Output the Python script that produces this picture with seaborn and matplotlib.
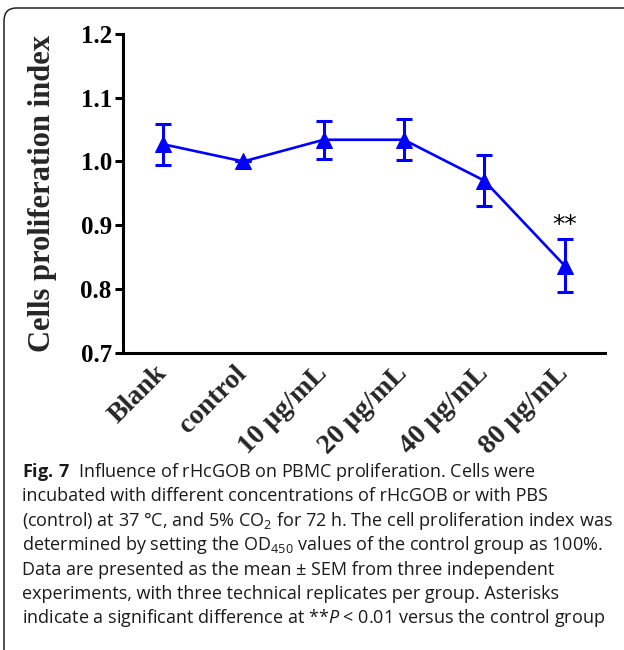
import matplotlib
matplotlib.use("Agg")
import matplotlib.pyplot as plt
from matplotlib.patches import FancyBboxPatch
import seaborn as sns
import pandas as pd

# values
groups = ["Blank", "control", "10 μg/mL", "20 μg/mL", "40 μg/mL", "80 μg/mL"]
means = [1.027, 1.000, 1.034, 1.034, 0.970, 0.837]
sems = [0.032, 0.000, 0.030, 0.032, 0.040, 0.042]
yticks = [0.7, 0.8, 0.9, 1.0, 1.1, 1.2]
ytick_labels = ["0.7", "0.8", "0.9", "1.0", "1.1", "1.2"]
signif = {"80 μg/mL": "**"}

caption_lines = [
    r"$\mathbf{Fig.\,7}$  Influence of rHcGOB on PBMC proliferation. Cells were",
    "incubated with different concentrations of rHcGOB or with PBS",
    r"(control) at 37 °C, and 5% CO$_2$ for 72 h. The cell proliferation index was",
    r"determined by setting the OD$_{450}$ values of the control group as 100%.",
    "Data are presented as the mean ± SEM from three independent",
    "experiments, with three technical replicates per group. Asterisks",
    r"indicate a significant difference at **$P$ < 0.01 versus the control group",
]

sns.set_theme(style="ticks")
plt.rcParams["font.family"] = ["Liberation Serif", "DejaVu Serif"]
plt.rcParams["mathtext.fontset"] = "custom"
plt.rcParams["mathtext.rm"] = "Open Sans"
plt.rcParams["mathtext.it"] = "Open Sans:italic"
plt.rcParams["mathtext.bf"] = "Open Sans:bold"

df = pd.DataFrame({"group": groups, "mean": means, "sem": sems})
blue = "#0000ff"

fig = plt.figure(figsize=(6.24, 6.5), dpi=100)
ax = fig.add_axes([0.197, 0.457, 0.772, 0.491])

sns.lineplot(data=df, x="group", y="mean", color=blue, linewidth=1.9,
             marker="^", markersize=11, markeredgecolor=blue, sort=False, ax=ax)
ax.errorbar(df["group"], df["mean"], yerr=df["sem"], fmt="none", ecolor=blue,
            elinewidth=2.2, capsize=6, capthick=2.2)

for g, mark in signif.items():
    i = groups.index(g)
    ax.text(i, means[i] + sems[i] + 0.003, mark, ha="center", va="bottom",
            fontsize=18, family="DejaVu Sans", color="black")

ax.set_xlim(-0.5, len(groups) - 0.5)
ax.set_ylim(0.7, 1.2)
ax.set_yticks(yticks, ytick_labels, fontsize=18, fontweight="bold")
ax.set_xticks(range(len(groups)), groups, fontsize=20, fontweight="bold",
              rotation=45, ha="right", va="center", rotation_mode="anchor")
ax.tick_params(axis="x", length=0, pad=12)
ax.tick_params(axis="y", length=6, width=2.2, pad=2, colors="black")
ax.set_xlabel("")
ax.set_ylabel("Cells proliferation index", fontsize=22, fontweight="bold", labelpad=17)
for s in ["left", "bottom"]:
    ax.spines[s].set_linewidth(2.2)
    ax.spines[s].set_color("black")
sns.despine(ax=ax)

# caption under the chart
y0 = 1 - 472 / 650
step = 24.4 / 650
for k, line in enumerate(caption_lines):
    fig.text(22 / 624, y0 - k * step, line, ha="left", va="center",
             fontsize=13, family="Open Sans", color="#1a1a1a")

# rounded frame around the figure
frame = FancyBboxPatch((4 / 624, -0.05), 1.2, 1 - 8 / 650 + 0.05,
                       boxstyle="round,pad=0,rounding_size=0.02",
                       transform=fig.transFigure, fill=False,
                       edgecolor="#222222", linewidth=1.1, clip_on=False)
fig.patches.append(frame)

fig.savefig("out.png", dpi=100)
